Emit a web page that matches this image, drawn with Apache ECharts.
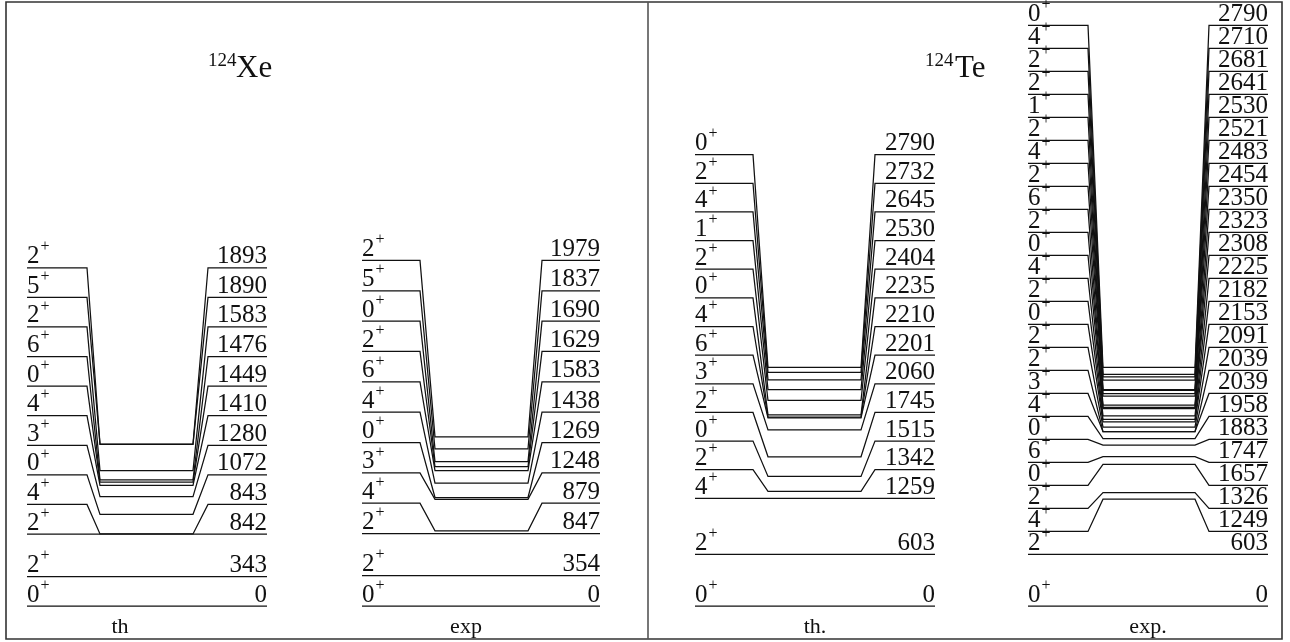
<!DOCTYPE html>
<html><head><meta charset="utf-8">
<script src="https://cdn.jsdelivr.net/npm/echarts@6/dist/echarts.min.js"></script>
<style>html,body{margin:0;padding:0;background:#fff}#c{width:1290px;height:642px}</style>
</head><body><div id="c"></div>
<script>
// ---------------- data (keV, spin J of J^+) ----------------
const xeThEnergy = [0, 343, 842, 843, 1072, 1280, 1410, 1449, 1476, 1583, 1890, 1893];
const xeThSpin   = ['0','2','2','4','0','3','4','0','6','2','5','2'];
const xeExpEnergy = [0, 354, 847, 879, 1248, 1269, 1438, 1583, 1629, 1690, 1837, 1979];
const xeExpSpin   = ['0','2','2','4','3','0','4','6','2','0','5','2'];
const teThEnergy = [0, 603, 1259, 1342, 1515, 1745, 2060, 2201, 2210, 2235, 2404, 2530, 2645, 2732, 2790];
const teThSpin   = ['0','2','4','2','0','2','3','6','4','0','2','1','4','2','0'];
const teExpEnergy = [0, 603, 1249, 1326, 1657, 1747, 1883, 1958, 2039, 2039, 2091, 2153, 2182, 2225, 2308, 2323, 2350, 2454, 2483, 2521, 2530, 2641, 2681, 2710, 2790];
const teExpSpin   = ['0','2','4','2','0','6','0','4','3','2','2','0','2','4','0','2','6','2','4','2','1','2','2','4','0'];
const columnLabels = ['th', 'exp', 'th.', 'exp.'];
const nucleusMass = ['124', '124'];
const nucleusSymbol = ['Xe', 'Te'];

// ---------------- layout ----------------
const FONT = '"Liberation Serif", "Times New Roman", serif';
const INK = '#111';
const columns = [
  {E: xeThEnergy,  J: xeThSpin,  x: [27, 87, 100, 193, 208, 267],  base: 2, step: 346, foot: 120},
  {E: xeExpEnergy, J: xeExpSpin, x: [362, 420, 435, 528, 542, 600], base: 2, step: 355, foot: 466},
  {E: teThEnergy,  J: teThSpin,  x: [695, 753, 768, 861, 875, 935], base: 2, step: 335, foot: 815},
  {E: teExpEnergy, J: teExpSpin, x: [1028, 1088, 1103, 1195, 1209, 1268], base: 1, step: 269, foot: 1148}
];

const rows = [];
columns.forEach((c, ci) => {
  c.E.forEach((e, i) => {
    const lab = i <= c.base ? e : c.E[c.base] + (i - c.base) * c.step;
    rows.push({col: ci, lvl: i, E: e, lab: lab, J: c.J[i]});
  });
});

const chart = echarts.init(document.getElementById('c'));
chart.setOption({
  animation: false,
  grid: {left: 0, right: 0, top: 7.5, bottom: 36, containLabel: false},
  xAxis: {type: 'value', min: 0, max: 1290, show: false},
  yAxis: {type: 'value', min: 0, max: 7000, show: false},
  series: [{
    type: 'custom',
    coordinateSystem: 'cartesian2d',
    data: rows.map(r => [r.col, r.lvl, r.E, r.lab]),
    renderItem: function (params, api) {
      const r = rows[params.dataIndex];
      const x = columns[r.col].x;
      const E = api.value(2), lab = api.value(3);
      const pts = [
        api.coord([x[0], lab]), api.coord([x[1], lab]),
        api.coord([x[2], E]), api.coord([x[3], E]),
        api.coord([x[4], lab]), api.coord([x[5], lab])
      ];
      const yl = pts[0][1];
      return {
        type: 'group',
        children: [
          {type: 'polyline', shape: {points: pts}, style: {stroke: INK, lineWidth: 1.25, fill: null}},
          {type: 'text', x: pts[0][0], y: yl - 11,
            style: {text: r.J, fontSize: 25, fontFamily: FONT, fill: INK, align: 'left', verticalAlign: 'middle'}},
          {type: 'text', x: pts[0][0] + 13.5, y: yl - 20.5,
            style: {text: '+', fontSize: 16, fontFamily: FONT, fill: INK, align: 'left', verticalAlign: 'middle'}},
          {type: 'text', x: pts[5][0], y: yl - 11,
            style: {text: String(r.E), fontSize: 25, fontFamily: FONT, fill: INK, align: 'right', verticalAlign: 'middle'}}
        ]
      };
    }
  }],
  graphic: [
    {type: 'rect', shape: {x: 6, y: 2, width: 1276, height: 637}, style: {stroke: '#333', lineWidth: 1.6, fill: null}},
    {type: 'line', shape: {x1: 648, y1: 2, x2: 648, y2: 639}, style: {stroke: '#555', lineWidth: 1.6}},
    {type: 'text', x: 208, y: 61, style: {text: nucleusMass[0], fontSize: 19, fontFamily: FONT, fill: INK, verticalAlign: 'middle'}},
    {type: 'text', x: 236, y: 69, style: {text: nucleusSymbol[0], fontSize: 31, fontFamily: FONT, fill: INK, verticalAlign: 'middle'}},
    {type: 'text', x: 925, y: 61, style: {text: nucleusMass[1], fontSize: 19, fontFamily: FONT, fill: INK, verticalAlign: 'middle'}},
    {type: 'text', x: 955, y: 69, style: {text: nucleusSymbol[1], fontSize: 31, fontFamily: FONT, fill: INK, verticalAlign: 'middle'}}
  ].concat(columns.map((c, i) => ({
    type: 'text', x: c.foot, y: 627,
    style: {text: columnLabels[i], fontSize: 22, fontFamily: FONT, fill: INK, align: 'center', verticalAlign: 'middle'}
  })))
});
</script></body></html>
